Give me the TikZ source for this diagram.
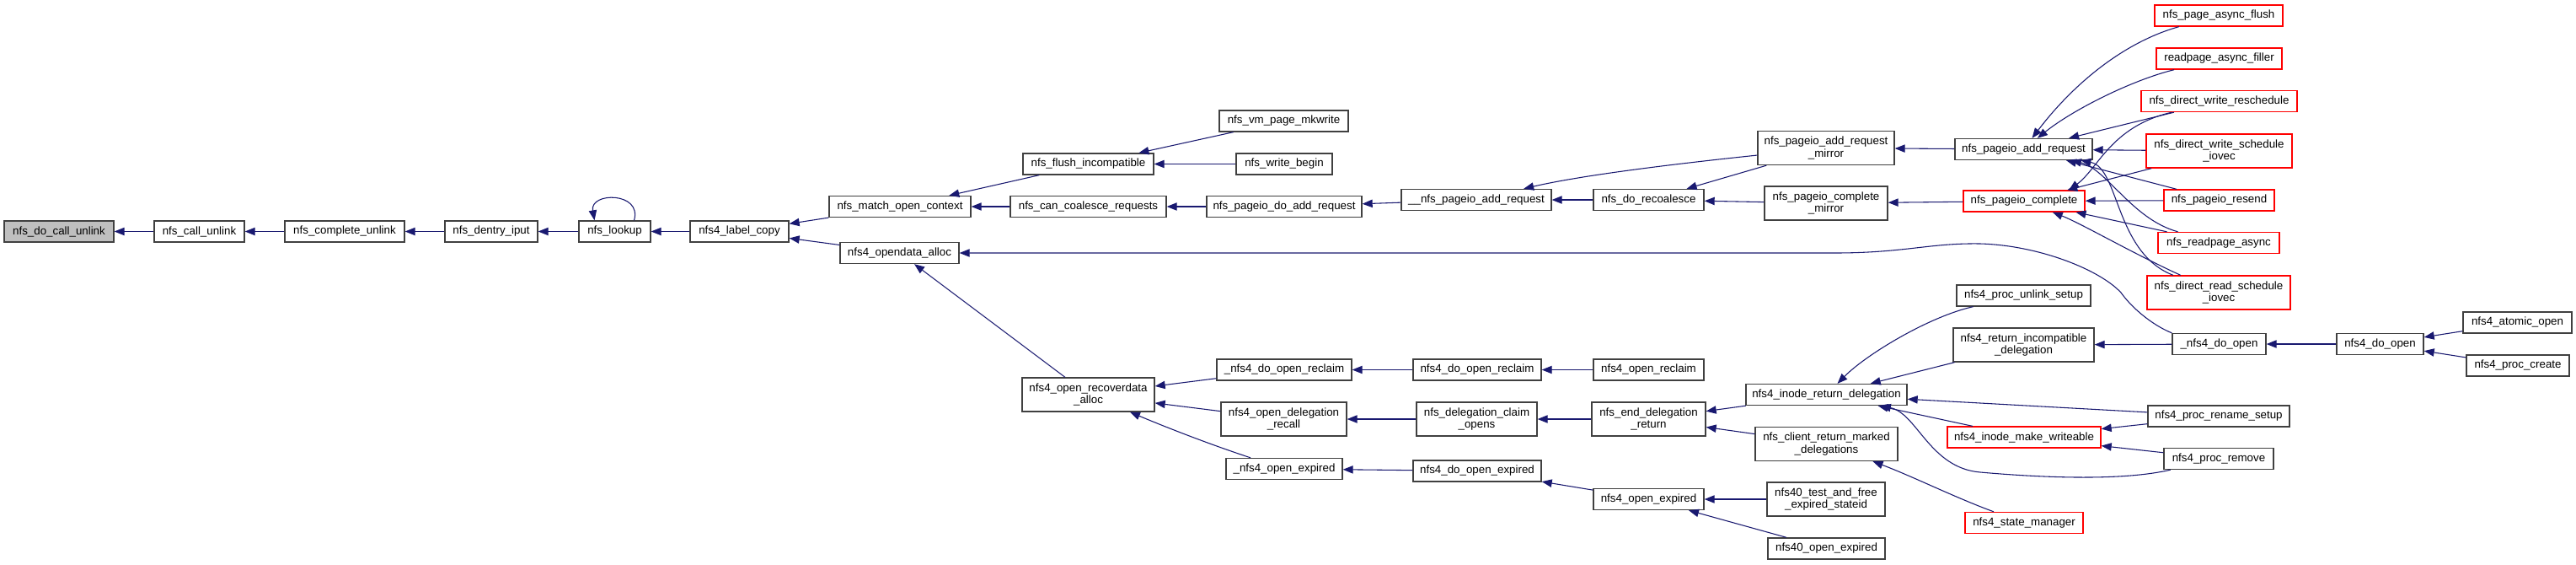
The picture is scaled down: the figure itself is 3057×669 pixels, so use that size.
\documentclass[tikz,border=0pt]{standalone}
\usepackage{fontspec}
\setmainfont{Liberation Sans}
\usetikzlibrary{arrows.meta, calc}
\definecolor{edgeblue}{HTML}{191970}
\definecolor{boxgray}{HTML}{BFBFBF}
\definecolor{boxline}{HTML}{404040}
\begin{document}
\begin{tikzpicture}[x=0.75pt, y=-0.75pt, >={Triangle[length=9pt, width=7pt]},
    fn/.style={draw=boxline, fill=white, line width=1pt, font=\fontsize{10}{11}\selectfont,
        inner sep=1pt, minimum height=18.75pt, align=center},
    fnroot/.style={fn, fill=boxgray},
    fnred/.style={fn, draw=red},
    tall/.style={minimum height=30pt},
    wd/.style={minimum width=#1*0.75pt},
    call/.style={<-, draw=edgeblue, line width=0.8pt}]

    % Page frame
    \path[fill=white] (0,0) rectangle (3057,669);
    \useasboundingbox (0,0) rectangle (3057,669);

    % Chain from the root to nfs4_label_copy
    \node[fnroot, wd=130] (dcu)  at (70,274.5)  {nfs\_do\_call\_unlink};
    \node[fn, wd=107]     (cu)   at (236.5,274.5) {nfs\_call\_unlink};
    \node[fn, wd=142]     (cmpu) at (409,274.5) {nfs\_complete\_unlink};
    \node[fn, wd=110]     (dip)  at (583,274.5) {nfs\_dentry\_iput};
    \node[fn, wd=85]      (lkp)  at (729.5,274.5) {nfs\_lookup};
    \node[fn, wd=117]     (lcp)  at (877.5,274.5) {nfs4\_label\_copy};

    % Open context and opendata
    \node[fn, wd=168] (moc) at (1068,245)   {nfs\_match\_open\_context};
    \node[fn, wd=141] (oda) at (1067.5,300) {nfs4\_opendata\_alloc};
    \node[fn, wd=155] (fli) at (1291.5,194.5) {nfs\_flush\_incompatible};
    \node[fn, wd=185] (ccr) at (1291.5,245) {nfs\_can\_coalesce\_requests};
    \node[fn, tall, wd=157] (ora) at (1291.5,468) {nfs4\_open\_recoverdata\\\_alloc};
    \node[fn, wd=153] (vmw)  at (1523.5,143.5) {nfs\_vm\_page\_mkwrite};
    \node[fn, wd=114] (wbg)  at (1524,194.5) {nfs\_write\_begin};
    \node[fn, wd=184] (pdar) at (1524,245)   {nfs\_pageio\_do\_add\_request};
    \node[fn, wd=160] (dorc) at (1524,438.5) {\_nfs4\_do\_open\_reclaim};
    \node[fn, tall, wd=149] (odr) at (1523.5,497) {nfs4\_open\_delegation\\\_recall};
    \node[fn, wd=138] (oex)  at (1524,556)   {\_nfs4\_open\_expired};

    % Page I/O and delegation callers
    \node[fn, wd=178] (upar)  at (1752,237)   {\_\_nfs\_pageio\_add\_request};
    \node[fn, wd=152] (ndorc) at (1753,438.5) {nfs4\_do\_open\_reclaim};
    \node[fn, tall, wd=143] (dco) at (1752.5,497) {nfs\_delegation\_claim\\\_opens};
    \node[fn, wd=152] (ndoex) at (1753,558.5) {nfs4\_do\_open\_expired};
    \node[fn, wd=131] (rcl)   at (1956.5,237) {nfs\_do\_recoalesce};
    \node[fn, wd=131] (orc)   at (1956.5,438.5) {nfs4\_open\_reclaim};
    \node[fn, tall, wd=135] (edr) at (1956.5,497) {nfs\_end\_delegation\\\_return};
    \node[fn, wd=131] (n4oex) at (1956.5,592) {nfs4\_open\_expired};
    \node[fn, tall, wd=162] (parm) at (2167,175.5) {nfs\_pageio\_add\_request\\\_mirror};
    \node[fn, tall, wd=146] (pcm)  at (2167,241) {nfs\_pageio\_complete\\\_mirror};
    \node[fn, wd=191] (ird) at (2167.5,468) {nfs4\_inode\_return\_delegation};
    \node[fn, tall, wd=169] (crmd) at (2167.5,526.5) {nfs\_client\_return\_marked\\\_delegations};
    \node[fn, tall, wd=140] (tfes) at (2167,592) {nfs40\_test\_and\_free\\\_expired\_stateid};
    \node[fn, wd=139] (n40oex) at (2167.5,650.5) {nfs40\_open\_expired};

    % Fourth column from the right
    \node[fn, wd=163]    (pgadd) at (2401.5,177) {nfs\_pageio\_add\_request};
    \node[fnred, wd=144] (pgcmp) at (2402,238.5) {nfs\_pageio\_complete};
    \node[fn, wd=159]    (pus)   at (2401.5,350.5) {nfs4\_proc\_unlink\_setup};
    \node[fn, tall, wd=167] (rid) at (2401.5,409) {nfs4\_return\_incompatible\\\_delegation};
    \node[fnred, wd=182] (imw)   at (2402,518.5) {nfs4\_inode\_make\_writeable};
    \node[fnred, wd=140] (stm)   at (2402,620) {nfs4\_state\_manager};

    % Outer callers
    \node[fnred, wd=152] (paf)  at (2633,18.5)  {nfs\_page\_async\_flush};
    \node[fnred, wd=149] (raf)  at (2633.5,69.5) {readpage\_async\_filler};
    \node[fnred, wd=185] (dwr)  at (2633.5,120) {nfs\_direct\_write\_reschedule};
    \node[fnred, tall, wd=173] (dwsi) at (2633.5,179) {nfs\_direct\_write\_schedule\\\_iovec};
    \node[fnred, wd=131] (prs)  at (2633.5,237.5) {nfs\_pageio\_resend};
    \node[fnred, wd=144] (rpa)  at (2633,288) {nfs\_readpage\_async};
    \node[fnred, tall, wd=170] (drsi) at (2633,347) {nfs\_direct\_read\_schedule\\\_iovec};
    \node[fn, wd=111] (ndo) at (2633.5,408) {\_nfs4\_do\_open};
    \node[fn, wd=168] (prn) at (2633,493.5) {nfs4\_proc\_rename\_setup};
    \node[fn, wd=130] (prm) at (2633,544) {nfs4\_proc\_remove};
    \node[fn, wd=103] (n4do) at (2824.5,408) {nfs4\_do\_open};
    \node[fn, wd=129] (ato)  at (2987.5,382.5) {nfs4\_atomic\_open};
    \node[fn, wd=122] (pcr)  at (2988,433.5) {nfs4\_proc\_create};

    % Calls along the main chain
    \draw[call] (dcu) -- (cu);
    \draw[call] (cu) -- (cmpu);
    \draw[call] (cmpu) -- (dip);
    \draw[call] (dip) -- (lkp);
    \draw[call] ($(lkp.north)+(-24,0)$) .. controls ($(lkp.north)+(-30,-34)$) and ($(lkp.north)+(33,-34)$) .. ($(lkp.north)+(23,0)$);
    \draw[call] (lkp) -- (lcp);
    \draw[call] (lcp) -- (moc);
    \draw[call] (lcp) -- (oda);
    \draw[call] (moc) -- (fli);
    \draw[call] (moc) -- (ccr);
    \draw[call] (fli) -- (vmw);
    \draw[call] (fli) -- (wbg);
    \draw[call] (ccr) -- (pdar);
    \draw[call] (pdar) -- (upar);
    \draw[call] (upar) -- (rcl);
    \draw[call] (upar) .. controls (1880,207) and (2000,193) .. (parm);
    \draw[call] (rcl) -- (parm);
    \draw[call] (rcl) -- (pcm);
    \draw[call] (parm) -- (pgadd);
    \draw[call] (pcm) -- (pgcmp);

    % Callers of nfs_pageio_add_request
    \draw[call] (pgadd) .. controls (2460,100) and (2520,50) .. (paf);
    \draw[call] (pgadd) .. controls (2460,130) and (2530,95) .. (raf);
    \draw[call] (pgadd) -- (dwr);
    \draw[call] (pgadd) -- (dwsi);
    \draw[call] (pgadd) -- (prs);
    \draw[call] (pgadd) .. controls (2500,200) and (2530,260) .. (rpa);
    \draw[call] (pgadd) .. controls (2515,199) and (2510,300) .. (drsi);

    % Callers of nfs_pageio_complete
    \draw[call] ([xshift=40pt]pgcmp.north) .. controls (2490,200) and (2505,150) .. (dwr);
    \draw[call] (pgcmp) -- (dwsi);
    \draw[call] (pgcmp) -- (prs);
    \draw[call] (pgcmp) -- (rpa);
    \draw[call] (pgcmp) .. controls (2470,265) and (2530,300) .. (drsi);

    % Opendata and recovery paths
    \draw[call] (oda.east) -- (2177,300) .. controls (2260,300) and (2290,288) .. (2350,289)
        .. controls (2420,291) and (2492,320) .. (2517,347)
        .. controls (2529,364) and (2553,385) .. (ndo.north west);
    \draw[call] (oda) -- (ora);
    \draw[call] (ora) -- (dorc);
    \draw[call] (ora) -- (odr);
    \draw[call] (ora) .. controls (1380,505) and (1430,525) .. (oex);
    \draw[call] (dorc) -- (ndorc);
    \draw[call] (ndorc) -- (orc);
    \draw[call] (odr) -- (dco);
    \draw[call] (dco) -- (edr);
    \draw[call] (edr) -- (ird);
    \draw[call] (edr) -- (crmd);
    \draw[call] (oex) -- (ndoex);
    \draw[call] (ndoex) -- (n4oex);
    \draw[call] (n4oex) -- (tfes);
    \draw[call] (n4oex) -- (n40oex);

    % Delegation return callers
    \draw[call] (ird) .. controls (2215,420) and (2290,375) .. (pus);
    \draw[call] (ird) -- (rid);
    \draw[call] (ird) -- (prn);
    \draw[call] (ird) -- (imw);
    \draw[call] (ird) .. controls (2275,490) and (2290,555) .. (2350,560)
        .. controls (2430,567) and (2520,570) .. (prm);
    \draw[call] (crmd) .. controls (2270,565) and (2320,590) .. (stm);
    \draw[call] (imw) -- (prn);
    \draw[call] (imw) -- (prm);
    \draw[call] (rid) -- (ndo);
    \draw[call] (ndo) -- (n4do);
    \draw[call] (n4do) -- (ato);
    \draw[call] (n4do) -- (pcr);
\end{tikzpicture}
\end{document}
